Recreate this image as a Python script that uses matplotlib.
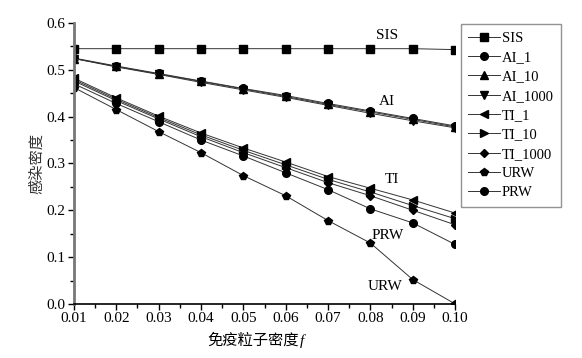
import numpy as np
import matplotlib
matplotlib.use("Agg")
import matplotlib.pyplot as plt

plt.rcParams['font.family'] = ['Liberation Serif', 'Noto Sans CJK SC', 'DejaVu Sans']

# immunization particle density
f = [0.01, 0.02, 0.03, 0.04, 0.05, 0.06, 0.07, 0.08, 0.09, 0.10]

SIS = [0.545, 0.545, 0.545, 0.545, 0.545, 0.545, 0.545, 0.545, 0.545, 0.543]
AI_1 = [0.525, 0.508, 0.492, 0.476, 0.460, 0.445, 0.428, 0.412, 0.396, 0.380]
AI_10 = [0.524, 0.507, 0.491, 0.475, 0.459, 0.443, 0.426, 0.410, 0.394, 0.378]
AI_1000 = [0.524, 0.506, 0.490, 0.473, 0.457, 0.441, 0.424, 0.407, 0.391, 0.376]
TI_1 = [0.482, 0.440, 0.401, 0.365, 0.333, 0.303, 0.272, 0.247, 0.222, 0.194]
TI_10 = [0.479, 0.437, 0.398, 0.361, 0.328, 0.297, 0.266, 0.239, 0.210, 0.182]
TI_1000 = [0.476, 0.434, 0.395, 0.357, 0.323, 0.291, 0.259, 0.231, 0.200, 0.169]
URW = [0.462, 0.415, 0.368, 0.323, 0.274, 0.231, 0.178, 0.130, 0.052, 0.0]
PRW = [0.470, 0.428, 0.389, 0.350, 0.316, 0.280, 0.244, 0.203, 0.173, 0.127]

series = [
    ("SIS", SIS, "s"),
    ("AI_1", AI_1, "o"),
    ("AI_10", AI_10, "^"),
    ("AI_1000", AI_1000, "v"),
    ("TI_1", TI_1, "<"),
    ("TI_10", TI_10, ">"),
    ("TI_1000", TI_1000, "D"),
    ("URW", URW, "p"),
    ("PRW", PRW, "o"),
]

# curve group labels: text, x, y
group_labels = [("SIS", 0.084, 0.573), ("AI", 0.084, 0.432), ("TI", 0.085, 0.265),
                ("PRW", 0.084, 0.147), ("URW", 0.0835, 0.038)]

fig = plt.figure(figsize=(5.82, 3.58), dpi=100)
ax = fig.add_axes([0.127, 0.151, 0.655, 0.785])

for name, vals, mk in series:
    ms = 4.5 if mk == "D" else 5.5
    ax.plot(f, vals, color="#333333", lw=0.7, marker=mk, ms=ms,
            mfc="black", mec="black", label=name)

for txt, x, y in group_labels:
    ax.text(x, y, txt, fontsize=11, ha="center", va="center")

ax.set_xlim(0.01, 0.10)
ax.set_ylim(0.0, 0.6)
ax.set_xticks(f)
ax.set_xticklabels(["%.2f" % v for v in f])
ax.set_yticks(np.arange(0, 0.61, 0.1))
ax.set_yticklabels(["%.1f" % v for v in np.arange(0, 0.61, 0.1)])
ax.set_xticks(np.arange(0.015, 0.1, 0.01), minor=True)
ax.set_yticks(np.arange(0.05, 0.6, 0.1), minor=True)
ax.tick_params(labelsize=11, length=4, width=1, direction="out", pad=2)
ax.tick_params(which="minor", length=3, width=1)

ax.spines["top"].set_visible(False)
ax.spines["right"].set_visible(False)
ax.spines["left"].set_color("#777777")
ax.spines["left"].set_linewidth(2)
ax.spines["bottom"].set_linewidth(1.2)

ax.set_ylabel("感染密度", fontsize=11, labelpad=2, color="#333333")
xl = ax.set_xlabel("免疫粒子密度", fontsize=11)
ax.xaxis.set_label_coords(0.47, -0.105)

leg = ax.legend(loc="upper left", bbox_to_anchor=(1.015, 0.995), fontsize=10.5,
                frameon=True, fancybox=False, edgecolor="#777777",
                numpoints=1, handlelength=2.2, handletextpad=0.1,
                labelspacing=0.42, borderpad=0.5, borderaxespad=0)
leg.get_frame().set_linewidth(1)

# italic f right after the Chinese x label
fig.canvas.draw()
bb = xl.get_window_extent()
fig.text(bb.x1 / fig.bbox.width + 0.002, (bb.y0 + bb.y1) / 2 / fig.bbox.height, "f",
         fontsize=11, style="italic", ha="left", va="center")

fig.savefig("out.png", dpi=100)
